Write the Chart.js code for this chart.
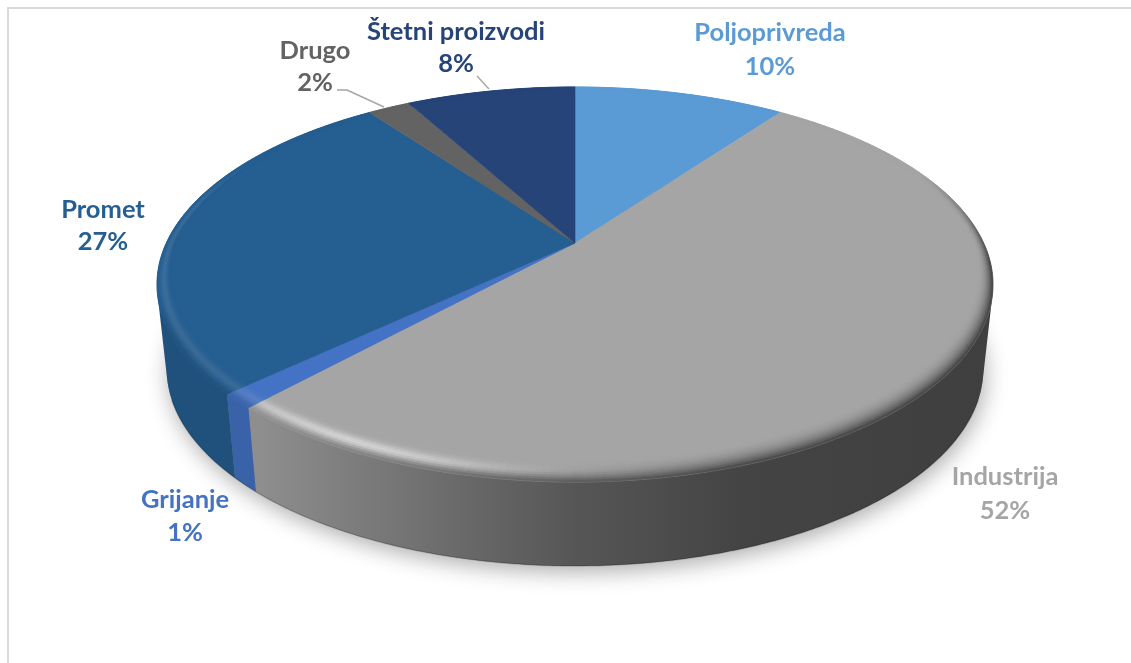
<!DOCTYPE html>
<html>
<head>
<meta charset="utf-8">
<title>Pie</title>
<script src="https://cdn.jsdelivr.net/npm/chart.js@4"></script>
<style>
    html, body { margin: 0; padding: 0; background: #fff; overflow: hidden; }
    #okvir { position: absolute; left: 7px; top: 7px; right: 0; bottom: 0; border-left: 2px solid #d9d9d9; border-top: 2px solid #d9d9d9; }
    #grafikon { position: absolute; left: 0; top: 0; }
</style>
</head>
<body>
<div id="okvir"></div>
<canvas id="grafikon" width="1131" height="663"></canvas>
<script>
const kategorije = ["Poljoprivreda", "Industrija", "Grijanje", "Promet", "Drugo", "Štetni proizvodi"];
const vrijednosti = [10, 51.8, 1.2, 27, 2, 8];
const boje = ["#5b9bd5", "#a5a5a5", "#4472c4", "#255e91", "#636363", "#264478"];

// perspektiva diska (vrh kriške je u cx,cy)
const cx = 575, cy = 243;
const A = 408.7, B = 188.8, K = 0.21;
const dubina = 84, suzenje = 0.977;

// sjena stijenke po x
const sjenaX = [[157, 0.86], [260, 0.86], [480, 0.62], [575, 0.52], [740, 0.41], [992, 0.38]];

// pozicije natpisa: centar x, y prvog i drugog reda
const natpisi = [
    { x: 770, y1: 33, y2: 67 },
    { x: 1005, y1: 477, y2: 511 },
    { x: 185, y1: 500, y2: 533 },
    { x: 103, y1: 210, y2: 242 },
    { x: 315, y1: 51, y2: 83 },
    { x: 456, y1: 32, y2: 64 }
];
const vodilice = [
    [[337, 90], [347, 90], [384, 107]],
    [[477, 76], [489, 89]]
];

function rub(kut, s) {
    const u = Math.cos(kut) * s, v = Math.sin(kut) * s;
    const d = 1 - K * v;
    return { x: cx + A * u / d, y: cy + B * v / d };
}

function dno(kut) {
    const p = rub(kut, 1);
    return { x: cx + (p.x - cx) * suzenje, y: p.y + dubina };
}

function uBroj(hex) {
    return [parseInt(hex.substr(1, 2), 16), parseInt(hex.substr(3, 2), 16), parseInt(hex.substr(5, 2), 16)];
}

function mix(a, b, t) {
    return [a[0] + (b[0] - a[0]) * t, a[1] + (b[1] - a[1]) * t, a[2] + (b[2] - a[2]) * t];
}

function css(c) {
    return "rgb(" + Math.round(c[0]) + "," + Math.round(c[1]) + "," + Math.round(c[2]) + ")";
}

function stega(t) {
    return Math.max(0, Math.min(1, t));
}

function faktorX(x) {
    for (let i = 1; i < sjenaX.length; i++) {
        if (x <= sjenaX[i][0]) {
            const t = stega((x - sjenaX[i - 1][0]) / (sjenaX[i][0] - sjenaX[i - 1][0]));
            return sjenaX[i - 1][1] + (sjenaX[i][1] - sjenaX[i - 1][1]) * t;
        }
    }
    return sjenaX[sjenaX.length - 1][1];
}

function kutovi(a0, a1, korak) {
    const n = Math.max(1, Math.ceil((a1 - a0) / korak));
    const out = [];
    for (let i = 0; i <= n; i++) out.push(a0 + (a1 - a0) * i / n);
    return out;
}

// sirina kosine ovisi o kutu: sprijeda siroka, straga uska
function sirinaKosine(kut) {
    return 0.025 + 0.05 * Math.max(0, Math.sin(kut));
}

function crtajStijenku(ctx, luk, boja) {
    const baza = uBroj(boja);
    const lista = kutovi(luk.startAngle, luk.endAngle, 0.01).filter(a => Math.sin(a) > -0.3);
    if (lista.length < 2) return;
    const grad = ctx.createLinearGradient(157, 0, 992, 0);
    sjenaX.forEach(s => {
        grad.addColorStop((s[0] - 157) / 835, css(mix([0, 0, 0], baza, s[1])));
    });
    // svi komadici u jednom putu, isti smjer obilaska, da nema savova
    ctx.beginPath();
    for (let i = 0; i < lista.length - 1; i++) {
        let q = [rub(lista[i], 1), rub(lista[i + 1], 1), dno(lista[i + 1]), dno(lista[i])];
        let povrsina = 0;
        q.forEach((p, j) => {
            const n = q[(j + 1) % 4];
            povrsina += p.x * n.y - n.x * p.y;
        });
        if (povrsina < 0) q = q.reverse();
        ctx.moveTo(q[0].x, q[0].y);
        ctx.lineTo(q[1].x, q[1].y);
        ctx.lineTo(q[2].x, q[2].y);
        ctx.lineTo(q[3].x, q[3].y);
        ctx.closePath();
    }
    ctx.fillStyle = grad;
    ctx.fill();
    // tamniji donji rub, samo sprijeda
    ctx.beginPath();
    lista.filter(a => Math.sin(a) > 0.35).forEach((a, i) => {
        const p = dno(a);
        if (i === 0) ctx.moveTo(p.x, p.y); else ctx.lineTo(p.x, p.y);
    });
    ctx.strokeStyle = "rgba(0,0,0,0.18)";
    ctx.lineWidth = 1.5;
    ctx.stroke();
}

function crtajVrh(ctx, luk, boja) {
    const lista = kutovi(luk.startAngle, luk.endAngle, 0.01);
    ctx.beginPath();
    ctx.moveTo(cx, cy);
    lista.forEach(a => {
        const p = rub(a, 1);
        ctx.lineTo(p.x, p.y);
    });
    ctx.closePath();
    ctx.fillStyle = boja;
    ctx.strokeStyle = boja;
    ctx.lineWidth = 0.6;
    ctx.fill();
    ctx.stroke();
}

function crtajKosinu(ctx, luk, boja) {
    const baza = uBroj(boja);
    const prsteni = 10;
    // siva kriska ima jaci odsjaj od plavih
    const odsjaj = baza[0] === baza[2] ? 1 : 0.35;
    const lista = kutovi(luk.startAngle, luk.endAngle, 0.015);
    ctx.lineWidth = 0.6;
    for (let r = 0; r < prsteni; r++) {
        const t = (r + 0.5) / prsteni;
        for (let i = 0; i < lista.length - 1; i++) {
            const am = (lista[i] + lista[i + 1]) / 2;
            const u = Math.cos(am), v = Math.sin(am);
            const rubT = rub(am, 1);
            const zid = mix([0, 0, 0], baza, faktorX(rubT.x));
            const e = u > 0 ? stega((v + 0.4) / 0.5) : stega((v - 0.25) / 0.2);
            let c = mix(baza, zid, e * Math.pow(t, 2.2));
            let h = v > -0.1 ? 0.55 * odsjaj * Math.exp(-Math.pow((u + 0.45) / 0.35, 2)) : 0;
            if (u < -0.3) h = Math.max(h, 0.1 * stega((v + 0.5) / 0.3));
            h *= Math.exp(-Math.pow((t - 0.55) / 0.25, 2));
            c = mix(c, [255, 255, 255], h);
            const w1 = sirinaKosine(lista[i]), w2 = sirinaKosine(lista[i + 1]);
            const p1 = rub(lista[i], 1 - w1 * (1 - r / prsteni)), p2 = rub(lista[i + 1], 1 - w2 * (1 - r / prsteni));
            const p3 = rub(lista[i + 1], 1 - w2 * (1 - (r + 1) / prsteni)), p4 = rub(lista[i], 1 - w1 * (1 - (r + 1) / prsteni));
            ctx.beginPath();
            ctx.moveTo(p1.x, p1.y);
            ctx.lineTo(p2.x, p2.y);
            ctx.lineTo(p3.x, p3.y);
            ctx.lineTo(p4.x, p4.y);
            ctx.closePath();
            ctx.fillStyle = css(c);
            ctx.strokeStyle = ctx.fillStyle;
            ctx.fill();
            ctx.stroke();
        }
    }
}

const disk3d = {
    id: "disk3d",
    beforeDatasetsDraw(chart) {
        const ctx = chart.ctx;
        const lukovi = chart.getDatasetMeta(0).data;
        const bojeSkupa = chart.data.datasets[0].backgroundColor;

        // sjena ispod diska
        ctx.save();
        ctx.shadowColor = "rgba(0,0,0,0.32)";
        ctx.shadowBlur = 22;
        ctx.shadowOffsetY = 6;
        ctx.shadowOffsetX = 2;
        ctx.beginPath();
        kutovi(0, Math.PI * 2, 0.02).forEach((a, i) => {
            const p = dno(a);
            if (i === 0) ctx.moveTo(p.x, p.y); else ctx.lineTo(p.x, p.y);
        });
        ctx.closePath();
        ctx.fillStyle = "#888";
        ctx.fill();
        ctx.restore();

        lukovi.forEach((luk, i) => crtajStijenku(ctx, luk, bojeSkupa[i]));
        lukovi.forEach((luk, i) => crtajVrh(ctx, luk, bojeSkupa[i]));
        lukovi.forEach((luk, i) => crtajKosinu(ctx, luk, bojeSkupa[i]));
        return false;
    },
    afterDraw(chart) {
        const ctx = chart.ctx;
        ctx.save();
        ctx.strokeStyle = "#a6a6a6";
        ctx.lineWidth = 1.4;
        vodilice.forEach(v => {
            ctx.beginPath();
            v.forEach((p, i) => {
                if (i === 0) ctx.moveTo(p[0], p[1]); else ctx.lineTo(p[0], p[1]);
            });
            ctx.stroke();
        });
        ctx.font = "bold 25.5px Lato";
        ctx.textAlign = "center";
        ctx.textBaseline = "middle";
        kategorije.forEach((k, i) => {
            ctx.fillStyle = boje[i];
            ctx.fillText(k, natpisi[i].x, natpisi[i].y1);
            ctx.fillText(Math.round(vrijednosti[i]) + "%", natpisi[i].x, natpisi[i].y2);
        });
        ctx.restore();
    }
};

new Chart(document.getElementById("grafikon").getContext("2d"), {
    type: "pie",
    data: {
        labels: kategorije,
        datasets: [{ data: vrijednosti, backgroundColor: boje, borderWidth: 0 }]
    },
    options: {
        responsive: false,
        animation: false,
        plugins: {
            legend: { display: false },
            tooltip: { enabled: false }
        }
    },
    plugins: [disk3d]
});
</script>
</body>
</html>
